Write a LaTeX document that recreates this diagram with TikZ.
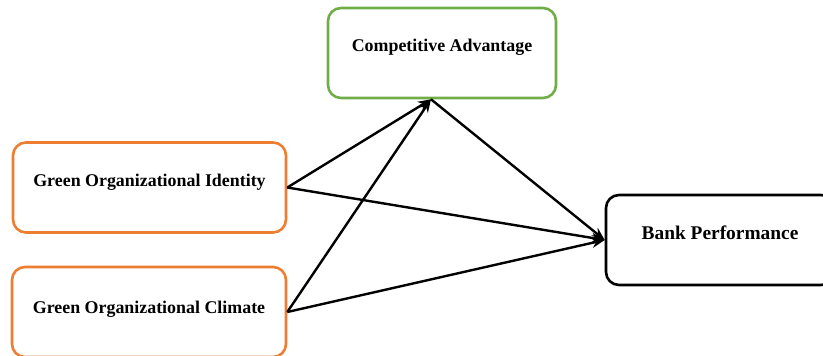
\documentclass[tikz,border=0pt]{standalone}
\usepackage{fontspec}
\setmainfont{Liberation Serif}
\usetikzlibrary{arrows.meta, calc, positioning}
\definecolor{boxgreen}{RGB}{112,173,71}
\definecolor{boxorange}{RGB}{237,125,49}
\tikzset{
  varbox/.style={draw, rounded corners=13pt, line width=2.6pt, inner sep=0pt,
    text height=44pt, text depth=46pt, minimum width=#1,
    font=\fontsize{17.9}{20}\selectfont\bfseries},
  path/.style={line width=2.4pt, -{Stealth[length=13pt,width=10pt]}}
}
\begin{document}
\begin{tikzpicture}[x=1pt, y=-1pt]
\useasboundingbox (0,0) rectangle (823,356);
\node[varbox=228pt, boxgreen, text=black] (ca) at (442,53) {Competitive Advantage};
\node[varbox=273pt, boxorange, text=black] (goi) at (149.5,187.5) {Green Organizational Identity};
\node[varbox=274pt, boxorange, text=black, text height=46pt, text depth=44pt] (goc) at (149,312) {Green Organizational Climate};
\node[varbox=228pt, font=\fontsize{19.4}{21}\selectfont\bfseries] (bp) at (720,240) {Bank Performance};
\coordinate (cain) at ($(ca.south)+(-11,0)$);

\draw[path] (goi.east) -- (cain);
\draw[path] (goc.east) -- (cain);
\draw[path] (goi.east) -- (bp.west);
\draw[path] (goc.east) -- (bp.west);
\draw[path] (cain) -- (bp.west);
\end{tikzpicture}
\end{document}
